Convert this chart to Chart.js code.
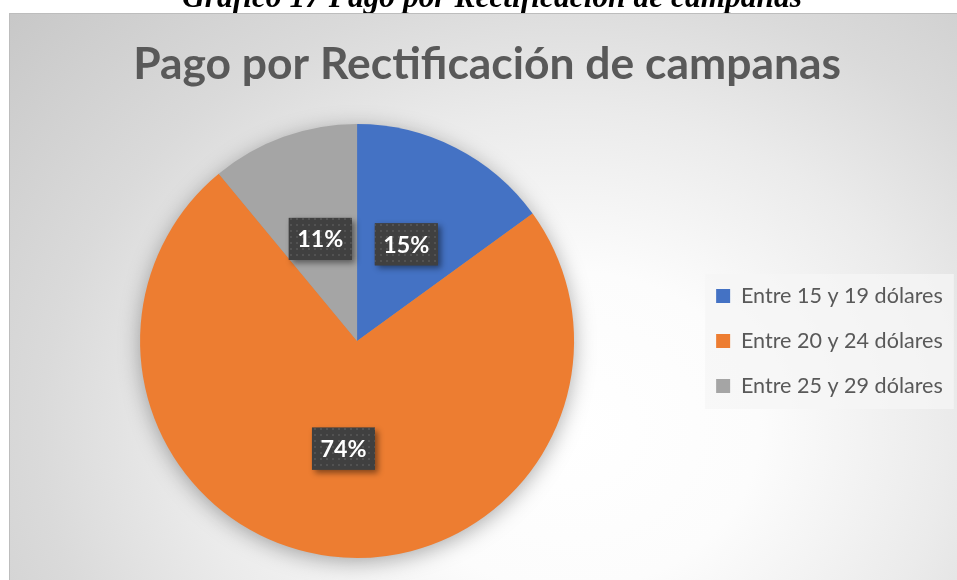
<!DOCTYPE html>
<html lang="es">
<head>
<meta charset="utf-8">
<title>Pago por Rectificación de campanas</title>
<script src="https://cdn.jsdelivr.net/npm/chart.js@4.4.0/dist/chart.umd.min.js"></script>
<style>
  html, body { margin: 0; padding: 0; background: #fff; }
  #wrap { position: relative; width: 957px; height: 580px; overflow: hidden; }
</style>
</head>
<body>
<div id="wrap"><canvas id="chart"></canvas></div>
<script>
const caption = "Gráfico 17 Pago por Rectificación de campanas";
const titleText = "Pago por Rectificación de campanas";
const categories = ["Entre 15 y 19 dólares", "Entre 20 y 24 dólares", "Entre 25 y 29 dólares"];
const percents = [15, 74, 11];
const colors = ["#4472C4", "#ED7D31", "#A5A5A5"];

const FONT = "Lato, 'Open Sans', sans-serif";
const SERIF = "'Liberation Serif', 'DejaVu Serif', serif";

// font sizes picked so the text widths match the reference
const mctx = document.createElement("canvas").getContext("2d");
function fitSize(text, weight, family, targetW) {
  mctx.font = `${weight} 100px ${family}`;
  return 100 * targetW / mctx.measureText(text).width;
}
const titleSize = fitSize(titleText, "bold", FONT, 708);
const legendSize = fitSize(categories[0], "normal", FONT, 202);
const labelSize = fitSize("74%", "bold", FONT, 46);
const captionSize = fitSize(caption, "italic bold", SERIF, 620);

// layout: pie centre x=357, r=217, legend box at x=716
const legPad = 45 - legendSize;
const legW = legPad + 14 + legendSize / 2 + 202 + 10;
const padLeft = 2 * 357 - (716 - legPad);
const padRight = 957 - (716 - legPad) - legW;
const titleLH = titleSize * 1.2;
const titleTop = 65 - 13 - titleLH / 2;
const titleBottom = 124 - 13 - titleTop - titleLH;

function dotPattern(ctx) {
  const c = document.createElement("canvas");
  c.width = 6; c.height = 6;
  const g = c.getContext("2d");
  g.fillStyle = "#404040"; g.fillRect(0, 0, 6, 6);
  g.fillStyle = "#525252"; g.fillRect(2, 2, 2, 2);
  return ctx.createPattern(c, "repeat");
}

const backdrop = {
  id: "backdrop",
  beforeDraw(chart) {
    const ctx = chart.ctx;
    ctx.save();
    // caption (cut off at the top, like the document page)
    ctx.fillStyle = "#000";
    ctx.font = `italic bold ${captionSize}px ${SERIF}`;
    ctx.textAlign = "center";
    ctx.textBaseline = "alphabetic";
    ctx.fillText(caption, 492, 7);

    // frame with radial gradient
    ctx.save();
    ctx.beginPath();
    ctx.rect(9, 13, 960, 580);
    ctx.clip();
    ctx.translate(570, 430);
    ctx.scale(560, 470);
    const gr = ctx.createRadialGradient(0, 0, 0, 0, 0, 1.35);
    gr.addColorStop(0, "#ffffff");
    gr.addColorStop(0.25, "#fcfcfc");
    gr.addColorStop(0.5, "#ebebeb");
    gr.addColorStop(0.7, "#dadada");
    gr.addColorStop(1, "#c7c7c7");
    ctx.fillStyle = gr;
    ctx.fillRect(-2, -2, 4, 4);
    ctx.restore();
    ctx.strokeStyle = "#bdbdbd";
    ctx.lineWidth = 1;
    ctx.strokeRect(9.5, 13.5, 960, 580);

    // legend panel
    const lg = chart.legend;
    const cy = (lg.top + lg.bottom) / 2;
    ctx.fillStyle = "rgba(245,245,245,0.75)";
    ctx.fillRect(lg.left + legPad - 11, cy - 67, lg.right - (lg.left + legPad - 11) + 1, 135);
    ctx.restore();
  },
  beforeDatasetsDraw(chart) {
    const ctx = chart.ctx;
    const arc = chart.getDatasetMeta(0).data[0];
    ctx.save();
    ctx.shadowColor = "rgba(0,0,0,0.35)";
    ctx.shadowBlur = 22;
    ctx.shadowOffsetY = 4;
    ctx.fillStyle = "#999";
    ctx.beginPath();
    ctx.arc(arc.x, arc.y, arc.outerRadius - 1, 0, 2 * Math.PI);
    ctx.fill();
    ctx.restore();
  },
  afterDatasetsDraw(chart) {
    const ctx = chart.ctx;
    const pat = dotPattern(ctx);
    chart.getDatasetMeta(0).data.forEach((arc, i) => {
      const p = arc.tooltipPosition();
      const w = 63, h = 42;
      ctx.save();
      ctx.shadowColor = "rgba(0,0,0,0.45)";
      ctx.shadowBlur = 6;
      ctx.shadowOffsetX = 3;
      ctx.shadowOffsetY = 3;
      ctx.fillStyle = "#404040";
      ctx.fillRect(p.x - w / 2, p.y - h / 2, w, h);
      ctx.restore();
      ctx.save();
      ctx.fillStyle = pat;
      ctx.fillRect(p.x - w / 2, p.y - h / 2, w, h);
      ctx.fillStyle = "#fff";
      ctx.font = `bold ${labelSize}px ${FONT}`;
      ctx.textAlign = "center";
      ctx.textBaseline = "middle";
      ctx.fillText(percents[i] + "%", p.x, p.y + 1);
      ctx.restore();
    });
  }
};

new Chart(document.getElementById("chart"), {
  type: "pie",
  data: {
    labels: categories,
    datasets: [{ data: percents, backgroundColor: colors, borderWidth: 0, hoverOffset: 0, offset: 0 }]
  },
  options: {
    responsive: true,
    maintainAspectRatio: false,
    animation: false,
    layout: { padding: { left: padLeft, right: padRight, top: 13, bottom: 22 } },
    plugins: {
      title: {
        display: true, text: titleText, color: "#595959",
        font: { family: FONT, size: titleSize, weight: "bold", lineHeight: 1.2 },
        padding: { top: titleTop, bottom: titleBottom }
      },
      legend: {
        position: "right", align: "center", fullSize: false,
        labels: {
          boxWidth: 14, boxHeight: 14, padding: legPad, color: "#595959",
          font: { family: FONT, size: legendSize }
        }
      },
      tooltip: { enabled: false }
    }
  },
  plugins: [backdrop]
});
</script>
</body>
</html>
